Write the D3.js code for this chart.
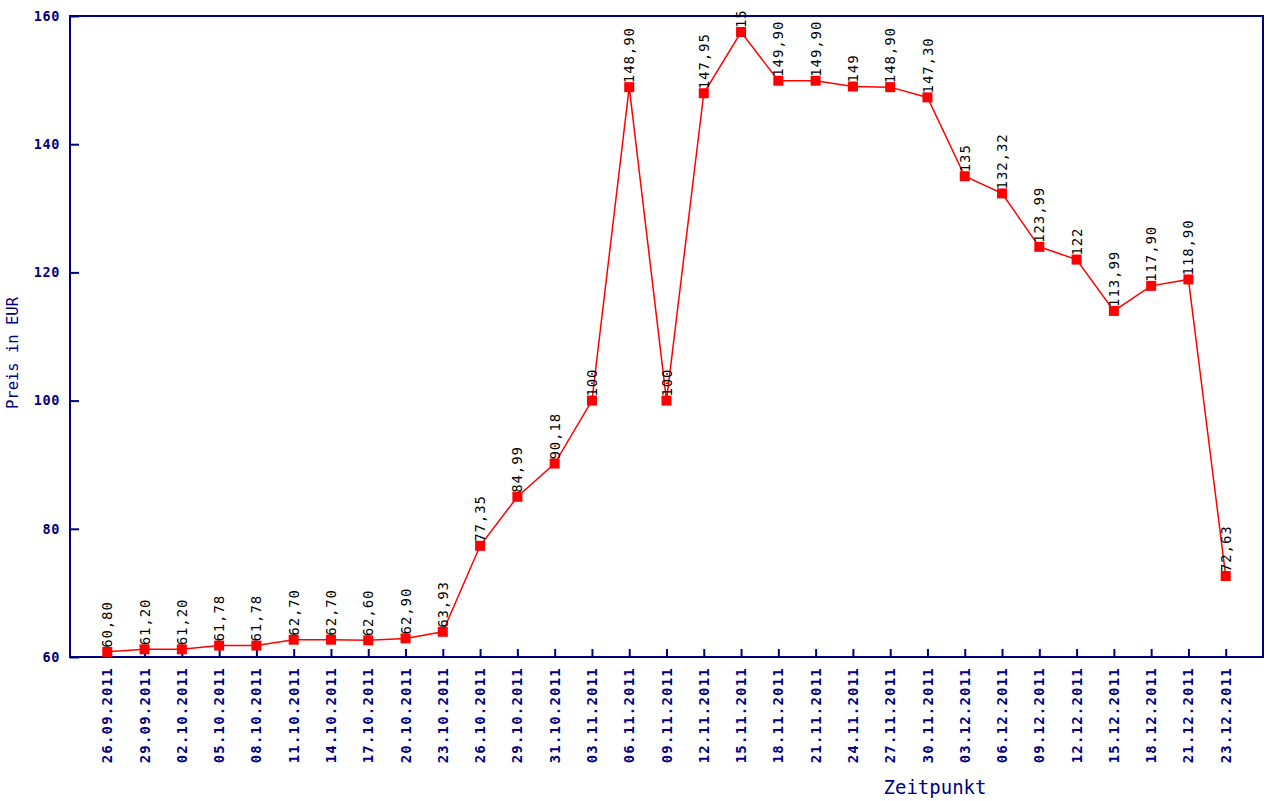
<!DOCTYPE html>
<html><head><meta charset="utf-8">
<script src="https://cdn.jsdelivr.net/npm/d3@7"></script>
<style>body{margin:0;background:#fff}svg{display:block}</style>
</head><body><svg id="c" width="1280" height="801"></svg>
<script>
const dates = ["26.09.2011","29.09.2011","02.10.2011","05.10.2011","08.10.2011","11.10.2011","14.10.2011","17.10.2011","20.10.2011","23.10.2011","26.10.2011","29.10.2011","31.10.2011","03.11.2011","06.11.2011","09.11.2011","12.11.2011","15.11.2011","18.11.2011","21.11.2011","24.11.2011","27.11.2011","30.11.2011","03.12.2011","06.12.2011","09.12.2011","12.12.2011","15.12.2011","18.12.2011","21.12.2011","23.12.2011"];
const prices = [60.80,61.20,61.20,61.78,61.78,62.70,62.70,62.60,62.90,63.93,77.35,84.99,90.18,100,148.90,100,147.95,157.50,149.90,149.90,149,148.90,147.30,135,132.32,123.99,122,113.99,117.90,118.90,72.63];
const pointLabels = ["60,80","61,20","61,20","61,78","61,78","62,70","62,70","62,60","62,90","63,93","77,35","84,99","90,18","100","148,90","100","147,95","15","149,90","149,90","149","148,90","147,30","135","132,32","123,99","122","113,99","117,90","118,90","72,63"];
const yTicks = [60,80,100,120,140,160];
const yTitle = "Preis in EUR";
const xTitle = "Zeitpunkt";

const navy = "#000080";
const mono = "'DejaVu Sans Mono', 'Liberation Mono', monospace";
const L = 70, T = 16, R = 1263, B = 657;
const svg = d3.select("#c");
const x = d3.scalePoint().domain(dates).range([L, R]).padding(1);
const y = d3.scaleLinear().domain([60,160]).range([B, T]);

// frame
svg.append("rect").attr("x", L).attr("y", T).attr("width", R-L).attr("height", B-T)
  .attr("fill", "none").attr("stroke", navy).attr("stroke-width", 2);

// y axis
const ya = svg.append("g").attr("transform", `translate(${L},0)`)
  .call(d3.axisRight(y).tickValues(yTicks).tickSize(9).tickFormat(""));
ya.select(".domain").remove();
ya.selectAll("line").attr("stroke", navy).attr("stroke-width", 2);
svg.append("g").selectAll("text").data(yTicks).join("text")
  .attr("x", 60).attr("y", d => y(d)).attr("dy", "0.36em")
  .attr("text-anchor", "end").attr("fill", navy)
  .attr("font-family", mono).attr("font-weight", "bold").attr("font-size", 13.5)
  .attr("letter-spacing", 0.6).text(d => d);

// x axis
const xa = svg.append("g").attr("transform", `translate(0,${B})`)
  .call(d3.axisTop(x).tickSize(8).tickFormat(""));
xa.select(".domain").remove();
xa.selectAll("line").attr("stroke", navy).attr("stroke-width", 2);
svg.append("g").selectAll("text").data(dates).join("text")
  .attr("transform", d => `translate(${x(d)},${B+10}) rotate(-90)`)
  .attr("dy", "0.36em").attr("text-anchor", "end").attr("fill", navy)
  .attr("font-family", mono).attr("font-weight", "bold").attr("font-size", 14)
  .attr("letter-spacing", 1.2).text(d => d);

// titles
svg.append("text").attr("transform", `translate(12,${(297+409)/2}) rotate(-90)`)
  .attr("dy", "0.36em").attr("text-anchor", "middle").attr("fill", navy)
  .attr("font-family", mono).attr("font-size", 15.5).text(yTitle);
svg.append("text").attr("x", 935).attr("y", 794)
  .attr("text-anchor", "middle").attr("fill", navy)
  .attr("font-family", mono).attr("font-size", 19).text(xTitle);

// line
const data = dates.map((d,i) => ({d, v: prices[i], lab: pointLabels[i]}));
svg.append("path").datum(data)
  .attr("fill", "none").attr("stroke", "#ff0000").attr("stroke-width", 1.5)
  .attr("d", d3.line().x(p => x(p.d)).y(p => y(p.v)));
svg.append("g").selectAll("rect").data(data).join("rect")
  .attr("x", p => x(p.d) - 5).attr("y", p => y(p.v) - 5)
  .attr("width", 10).attr("height", 10).attr("fill", "#ff0000");

// point labels
svg.append("g").selectAll("text").data(data).join("text")
  .attr("transform", p => `translate(${x(p.d)},${y(p.v) - 4}) rotate(-90)`)
  .attr("dy", "0.36em").attr("text-anchor", "start").attr("fill", "#000")
  .attr("font-family", mono).attr("font-size", 14)
  .attr("letter-spacing", 0.9).text(p => p.lab);
</script></body></html>
